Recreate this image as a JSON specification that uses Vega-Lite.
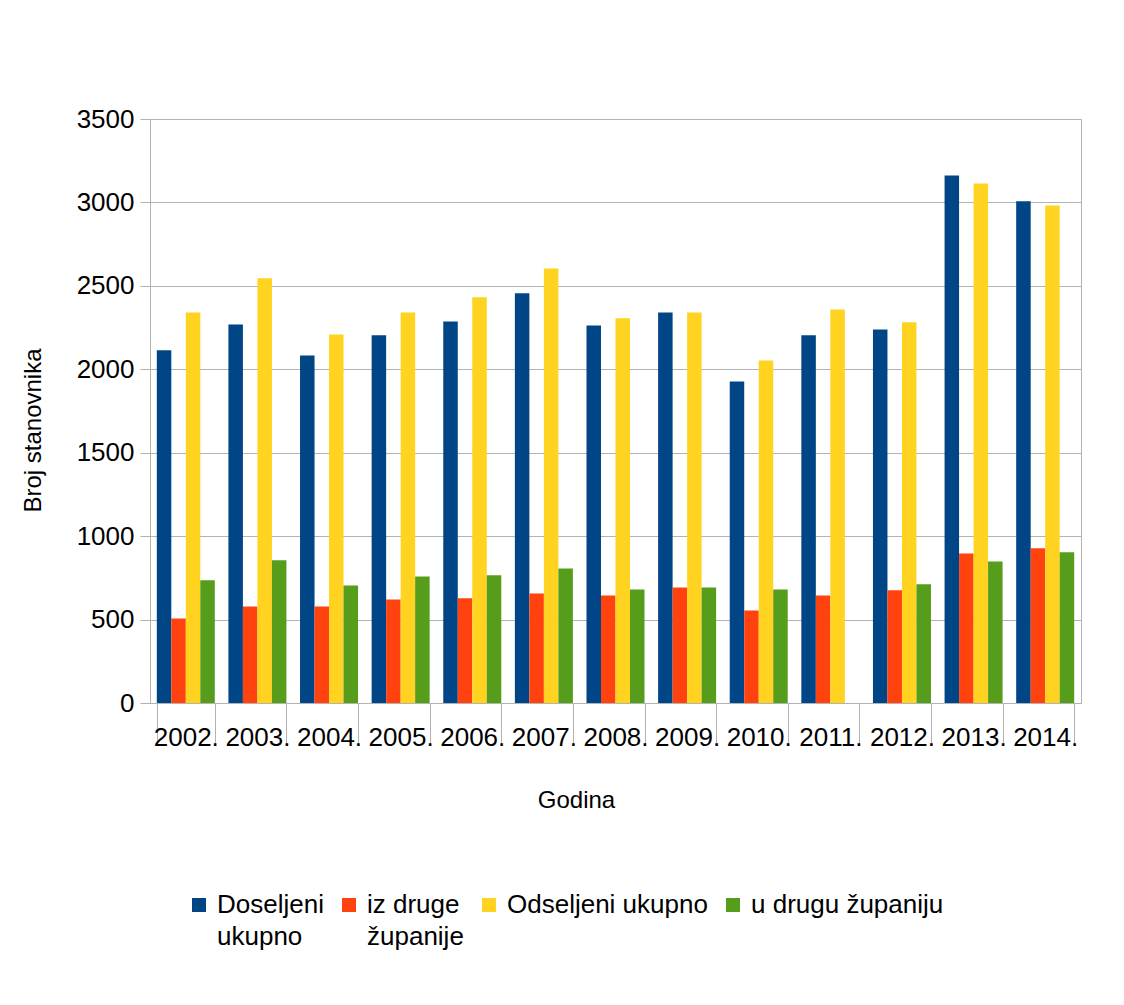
{
  "$schema": "https://vega.github.io/schema/vega-lite/v6.json",
  "width": 931,
  "height": 584,
  "autosize": {"type": "none"},
  "padding": {"left": 150, "top": 119, "right": 43, "bottom": 302},
  "background": "white",
  "config": {
    "font": "Liberation Sans",
    "view": {"stroke": "#b3b3b3", "strokeWidth": 1},
    "style": {"guide-label": {"lineHeight": 32}}
  },
  "data": {
    "values": [
      {"godina": "2002.", "serija": "Doseljeni ukupno", "broj": 2114},
      {"godina": "2002.", "serija": "iz druge županije", "broj": 507},
      {"godina": "2002.", "serija": "Odseljeni ukupno", "broj": 2341},
      {"godina": "2002.", "serija": "u drugu županiju", "broj": 735},
      {"godina": "2003.", "serija": "Doseljeni ukupno", "broj": 2268},
      {"godina": "2003.", "serija": "iz druge županije", "broj": 578},
      {"godina": "2003.", "serija": "Odseljeni ukupno", "broj": 2545},
      {"godina": "2003.", "serija": "u drugu županiju", "broj": 855},
      {"godina": "2004.", "serija": "Doseljeni ukupno", "broj": 2083},
      {"godina": "2004.", "serija": "iz druge županije", "broj": 578},
      {"godina": "2004.", "serija": "Odseljeni ukupno", "broj": 2209},
      {"godina": "2004.", "serija": "u drugu županiju", "broj": 704},
      {"godina": "2005.", "serija": "Doseljeni ukupno", "broj": 2204},
      {"godina": "2005.", "serija": "iz druge županije", "broj": 621},
      {"godina": "2005.", "serija": "Odseljeni ukupno", "broj": 2341},
      {"godina": "2005.", "serija": "u drugu županiju", "broj": 758},
      {"godina": "2006.", "serija": "Doseljeni ukupno", "broj": 2287},
      {"godina": "2006.", "serija": "iz druge županije", "broj": 628},
      {"godina": "2006.", "serija": "Odseljeni ukupno", "broj": 2431},
      {"godina": "2006.", "serija": "u drugu županiju", "broj": 765},
      {"godina": "2007.", "serija": "Doseljeni ukupno", "broj": 2455},
      {"godina": "2007.", "serija": "iz druge županije", "broj": 656},
      {"godina": "2007.", "serija": "Odseljeni ukupno", "broj": 2604},
      {"godina": "2007.", "serija": "u drugu županiju", "broj": 806},
      {"godina": "2008.", "serija": "Doseljeni ukupno", "broj": 2263},
      {"godina": "2008.", "serija": "iz druge županije", "broj": 645},
      {"godina": "2008.", "serija": "Odseljeni ukupno", "broj": 2306},
      {"godina": "2008.", "serija": "u drugu županiju", "broj": 680},
      {"godina": "2009.", "serija": "Doseljeni ukupno", "broj": 2341},
      {"godina": "2009.", "serija": "iz druge županije", "broj": 692},
      {"godina": "2009.", "serija": "Odseljeni ukupno", "broj": 2341},
      {"godina": "2009.", "serija": "u drugu županiju", "broj": 692},
      {"godina": "2010.", "serija": "Doseljeni ukupno", "broj": 1927},
      {"godina": "2010.", "serija": "iz druge županije", "broj": 555},
      {"godina": "2010.", "serija": "Odseljeni ukupno", "broj": 2052},
      {"godina": "2010.", "serija": "u drugu županiju", "broj": 680},
      {"godina": "2011.", "serija": "Doseljeni ukupno", "broj": 2204},
      {"godina": "2011.", "serija": "iz druge županije", "broj": 645},
      {"godina": "2011.", "serija": "Odseljeni ukupno", "broj": 2358},
      {"godina": "2012.", "serija": "Doseljeni ukupno", "broj": 2239},
      {"godina": "2012.", "serija": "iz druge županije", "broj": 675},
      {"godina": "2012.", "serija": "Odseljeni ukupno", "broj": 2282},
      {"godina": "2012.", "serija": "u drugu županiju", "broj": 711},
      {"godina": "2013.", "serija": "Doseljeni ukupno", "broj": 3161},
      {"godina": "2013.", "serija": "iz druge županije", "broj": 896},
      {"godina": "2013.", "serija": "Odseljeni ukupno", "broj": 3114},
      {"godina": "2013.", "serija": "u drugu županiju", "broj": 848},
      {"godina": "2014.", "serija": "Doseljeni ukupno", "broj": 3007},
      {"godina": "2014.", "serija": "iz druge županije", "broj": 927},
      {"godina": "2014.", "serija": "Odseljeni ukupno", "broj": 2981},
      {"godina": "2014.", "serija": "u drugu županiju", "broj": 903}
    ]
  },
  "mark": {"type": "bar"},
  "encoding": {
    "x": {
      "field": "godina",
      "type": "nominal",
      "sort": null,
      "scale": {"paddingInner": 0.19, "paddingOuter": 0.095},
      "axis": {
        "title": "Godina",
        "titleFont": "Liberation Sans",
        "titleFontSize": 24,
        "titleFontWeight": "normal",
        "titleColor": "black",
        "titleX": 426,
        "titleY": 104,
        "titleAlign": "center",
        "titleBaseline": "alphabetic",
        "labelAngle": 0,
        "labelFontSize": 26,
        "labelColor": "black",
        "labelPadding": -21,
        "labelBaseline": "top",
        "tickBand": "extent",
        "tickSize": 42,
        "tickColor": "#b3b3b3",
        "domainColor": "#b3b3b3",
        "grid": false
      }
    },
    "xOffset": {
      "field": "serija",
      "type": "nominal",
      "sort": ["Doseljeni ukupno", "iz druge županije", "Odseljeni ukupno", "u drugu županiju"],
      "scale": {"paddingInner": 0, "paddingOuter": 0}
    },
    "y": {
      "field": "broj",
      "type": "quantitative",
      "scale": {"domain": [0, 3500], "nice": false},
      "axis": {
        "title": "Broj stanovnika",
        "titleFont": "Liberation Sans",
        "titleFontSize": 24,
        "titleFontWeight": "normal",
        "titleColor": "black",
        "titleX": -110,
        "titleY": 311,
        "titleAngle": -90,
        "titleAlign": "center",
        "titleBaseline": "alphabetic",
        "values": [0, 500, 1000, 1500, 2000, 2500, 3000, 3500],
        "format": "d",
        "labelFontSize": 26,
        "labelColor": "black",
        "labelPadding": 6,
        "tickSize": 10,
        "tickColor": "#b3b3b3",
        "domainColor": "#b3b3b3",
        "gridColor": "#b3b3b3",
        "gridOpacity": 1
      }
    },
    "color": {
      "field": "serija",
      "type": "nominal",
      "sort": ["Doseljeni ukupno", "iz druge županije", "Odseljeni ukupno", "u drugu županiju"],
      "scale": {
        "domain": ["Doseljeni ukupno", "iz druge županije", "Odseljeni ukupno", "u drugu županiju"],
        "range": ["#004586", "#ff420e", "#ffd320", "#579d1c"]
      },
      "legend": {
        "title": null,
        "orient": "none",
        "direction": "horizontal",
        "legendX": 36,
        "legendY": 773,
        "symbolType": "square",
        "symbolSize": 196,
        "symbolStrokeWidth": 0,
        "labelFontSize": 26,
        "labelColor": "black",
        "labelOffset": 5,
        "labelBaseline": "middle",
        "labelLimit": 400,
        "columnPadding": 12,
        "labelExpr": "datum.label == 'Doseljeni ukupno' ? ['Doseljeni', ' ukupno'] : datum.label == 'iz druge županije' ? ['iz druge', 'županije'] : datum.label == 'u drugu županiju' ? ['u drugu županiju', ''] : [datum.label, '']"
      }
    }
  }
}
